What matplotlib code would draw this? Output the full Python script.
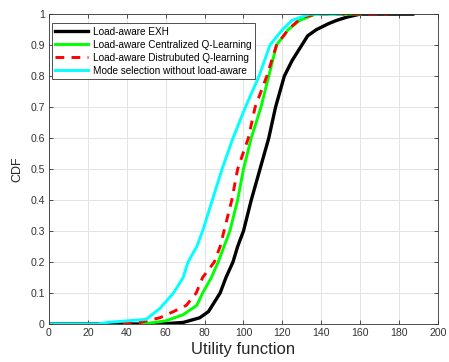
import matplotlib
matplotlib.use("Agg")
import matplotlib.pyplot as plt

plt.rcParams['font.family'] = ['Liberation Sans', 'DejaVu Sans']

# CDF curves (utility value, cumulative probability)
exh_x = [0, 55, 62, 69, 77.5, 82, 85, 88, 91, 94.6, 97, 100, 104, 108.5, 113,
         116.5, 121, 125, 130, 133, 137.5, 144, 148, 153, 160, 187]
exh_y = [0, 0, 0.002, 0.005, 0.02, 0.04, 0.07, 0.1, 0.15, 0.2, 0.25, 0.3, 0.4,
         0.5, 0.6, 0.7, 0.8, 0.85, 0.9, 0.93, 0.95, 0.97, 0.98, 0.99, 1.0, 1.0]

cen_x = [48, 60, 69, 76, 79, 83.5, 87, 90, 93, 97, 100, 104, 109, 113,
         117, 123, 129, 137, 160]
cen_y = [0, 0.01, 0.03, 0.06, 0.1, 0.15, 0.2, 0.25, 0.3, 0.4, 0.5, 0.6, 0.7,
         0.8, 0.9, 0.95, 0.98, 1.0, 1.0]

dis_x = [38, 46.6, 57, 64, 70.6, 75.7, 79, 85, 88, 90, 94, 97, 102.5, 106,
         112, 117, 123, 130, 138, 174]
dis_y = [0, 0.005, 0.02, 0.04, 0.06, 0.1, 0.15, 0.2, 0.25, 0.3, 0.4, 0.5, 0.6,
         0.7, 0.8, 0.9, 0.95, 0.99, 1.0, 1.0]

mode_x = [0, 25, 30, 40, 50, 57, 64, 69, 71.5, 76, 79, 84, 89, 94.6, 101,
          108, 113.6, 120, 125, 134, 150]
mode_y = [0, 0, 0.005, 0.01, 0.015, 0.05, 0.1, 0.15, 0.2, 0.25, 0.3, 0.4, 0.5,
          0.6, 0.7, 0.8, 0.9, 0.95, 0.98, 1.0, 1.0]

labels = ['Load-aware EXH', 'Load-aware Centralized Q-Learning',
          'Load-aware Distrubuted Q-learning', 'Mode selection without load-aware']

fig = plt.figure(figsize=(4.49, 3.62), dpi=100)
ax = fig.add_axes([0.109, 0.105, 0.8665, 0.856])

ax.plot(exh_x, exh_y, color='black', lw=2.4, label=labels[0])
ax.plot(cen_x, cen_y, color='#00ff00', lw=2.1, label=labels[1])
ax.plot(dis_x, dis_y, color='red', lw=2.1, ls=(0, (3, 2.5)), label=labels[2])
ax.plot(mode_x, mode_y, color='cyan', lw=2.1, label=labels[3])

ax.set_xlim(0, 200)
ax.set_ylim(0, 1)
ax.set_xticks(range(0, 201, 20))
ax.set_yticks([i / 10 for i in range(11)])
ax.set_yticklabels(['0', '0.1', '0.2', '0.3', '0.4', '0.5', '0.6', '0.7', '0.8', '0.9', '1'])
ax.grid(True, color='#e3e3e3', lw=0.7)
ax.tick_params(direction='in', top=True, right=True, length=3, width=0.6,
               labelsize=7.6, colors='#333333', pad=3)
for s in ax.spines.values():
    s.set_color('#333333')
    s.set_linewidth(0.6)

ax.set_xlabel('Utility function', fontsize=12, color='#262626', labelpad=3)
ax.set_ylabel('CDF', fontsize=9, color='#262626', labelpad=5)

leg = ax.legend(loc='upper left', bbox_to_anchor=(0.0077, 0.971), borderaxespad=0,
                fontsize=7.2, handlelength=3.3, handletextpad=0.5, labelspacing=0.3,
                borderpad=0.35, fancybox=False, framealpha=1, edgecolor='#333333')
leg.get_frame().set_linewidth(0.6)

fig.savefig('out.png', dpi=100)
